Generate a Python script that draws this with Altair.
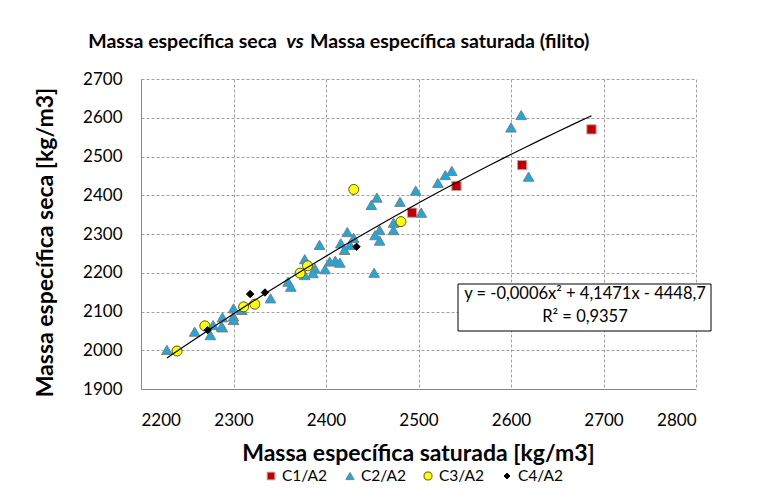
import altair as alt
import pandas as pd

series_names = ["C1/A2", "C2/A2", "C3/A2", "C4/A2"]

c1_x = [2687, 2612, 2541, 2493]
c1_y = [2570, 2478, 2424, 2355]

c2_x = [2611, 2600, 2619, 2536, 2529, 2521, 2497, 2455, 2449, 2480, 2503, 2473,
        2473, 2458, 2453, 2458, 2452, 2393, 2416, 2420, 2426, 2377, 2377, 2388,
        2399, 2386, 2404, 2410, 2415, 2359, 2362, 2340, 2300, 2300, 2309, 2288,
        2288, 2258, 2275, 2278, 2287, 2300, 2228, 2423, 2430]
c2_y = [2607, 2575, 2448, 2463, 2452, 2432, 2412, 2394, 2375, 2383, 2355, 2329,
        2310, 2310, 2297, 2283, 2200, 2272, 2276, 2259, 2272, 2235, 2194, 2211,
        2209, 2199, 2229, 2231, 2226, 2177, 2164, 2134, 2108, 2087, 2104, 2085,
        2059, 2048, 2039, 2065, 2061, 2078, 2001, 2305, 2290]

c3_x = [2239, 2269, 2311, 2323, 2372, 2380, 2430, 2481]
c3_y = [1998, 2063, 2112, 2119, 2199, 2218, 2415, 2332]

c4_x = [2433, 2318, 2334, 2272]
c4_y = [2267, 2145, 2149, 2052]

x_ticks = [2200, 2300, 2400, 2500, 2600, 2700, 2800]
y_ticks = [1900, 2000, 2100, 2200, 2300, 2400, 2500, 2600, 2700]

eq_line1 = "y = -0,0006x² + 4,1471x - 4448,7"
eq_line2 = "R² = 0,9357"

all_x = [c1_x, c2_x, c3_x, c4_x]
all_y = [c1_y, c2_y, c3_y, c4_y]

fills = ["#C00000", "#1BA9E0", "#FFFF00", "#000000"]
strokes = ["#C8A2A2", "#7F7F7F", "#595900", "#000000"]
shapes = ["square", "triangle-up", "circle", "diamond"]
sizes = [86, 112, 100, 55]
legend_sizes = [60, 70, 65, 35]
legend_sym_x = [130, 209, 287, 366]

FONT = "Lato"

rows = []
for name, xs_, ys_ in zip(series_names, all_x, all_y):
    for xv, yv in zip(xs_, ys_):
        rows.append({"serie": name, "sat": xv, "seca": yv})
df = pd.DataFrame(rows)


def xenc():
    return alt.X("sat:Q", scale=alt.Scale(domain=[2200, 2800], nice=False, zero=False),
                 axis=alt.Axis(values=x_ticks, title="Massa específica saturada [kg/m3]",
                               format="d", labelPadding=23, labelOverlap=False,
                               titleX=277, titleY=71,
                               titleBaseline="alphabetic", titleAlign="center"))


def yenc():
    return alt.Y("seca:Q", scale=alt.Scale(domain=[1900, 2700], nice=False, zero=False),
                 axis=alt.Axis(values=y_ticks, title="Massa específica seca [kg/m3]",
                               format="d", labelPadding=19, labelOverlap=False,
                               titleX=-89, titleY=163,
                               titleAngle=270, titleBaseline="alphabetic", titleAlign="center"))


layers = []
for i, name in enumerate(series_names):
    sdf = pd.DataFrame({"sat": all_x[i], "seca": all_y[i]})
    layers.append(
        alt.Chart(sdf).mark_point(filled=True, shape=shapes[i], fill=fills[i],
                                  stroke=strokes[i], strokeWidth=1, size=sizes[i],
                                  opacity=1).encode(x=xenc(), y=yenc())
    )

trend = alt.Chart(df).mark_line(color="#000000", strokeWidth=1.2).transform_regression(
    "sat", "seca", method="poly", order=2
).encode(x=xenc(), y=yenc())
layers.append(trend)

box_df = pd.DataFrame({"l1": [eq_line1], "l2": [eq_line2]})
layers.append(alt.Chart(box_df).mark_rect(fill="white", stroke="#000000", strokeWidth=1).encode(
    x=alt.value(317), x2=alt.value(570), y=alt.value(205), y2=alt.value(252)))
layers.append(alt.Chart(box_df).mark_text(font=FONT, fontSize=16.5, color="#000000",
                                          align="center", baseline="middle").encode(
    x=alt.value(444), y=alt.value(215), text="l1:N"))
layers.append(alt.Chart(box_df).mark_text(font=FONT, fontSize=16.5, color="#000000",
                                          align="center", baseline="middle").encode(
    x=alt.value(444), y=alt.value(238), text="l2:N"))

# legend (drawn manually)
for i, name in enumerate(series_names):
    ldf = pd.DataFrame({"lab": [name]})
    layers.append(alt.Chart(ldf).mark_point(filled=True, shape=shapes[i], fill=fills[i],
                                            stroke=strokes[i], strokeWidth=1,
                                            size=legend_sizes[i], opacity=1).encode(
        x=alt.value(legend_sym_x[i]), y=alt.value(397)))
    layers.append(alt.Chart(ldf).mark_text(font=FONT, fontSize=15.5, color="#000000",
                                           align="left", baseline="middle").encode(
        x=alt.value(legend_sym_x[i] + 11), y=alt.value(397), text="lab:N"))

title_df = pd.DataFrame({"a": ["Massa específica seca"], "b": ["vs"],
                         "c": ["Massa específica saturada (filito)"]})
layers.append(alt.Chart(title_df).mark_text(font=FONT, fontSize=19.5, fontWeight="bold",
                                            align="right", baseline="alphabetic",
                                            color="#000000").encode(
    x=alt.value(136), y=alt.value(-31), text="a:N"))
layers.append(alt.Chart(title_df).mark_text(font=FONT, fontSize=19.5, fontWeight="bold",
                                            fontStyle="italic", align="center",
                                            baseline="alphabetic", color="#000000").encode(
    x=alt.value(154), y=alt.value(-31), text="b:N"))
layers.append(alt.Chart(title_df).mark_text(font=FONT, fontSize=19.5, fontWeight="bold",
                                            align="left", baseline="alphabetic",
                                            color="#000000").encode(
    x=alt.value(169), y=alt.value(-31), text="c:N"))

chart = alt.layer(*layers).properties(
    width=555, height=310,
    padding={"left": 133, "top": 71, "right": 58, "bottom": 95},
    autosize=alt.AutoSizeParams(type="none"),
).configure_view(stroke=None).configure_axis(
    labelFont=FONT, labelFontSize=17, labelColor="#000000", labelOverlap=False,
    titleFont=FONT, titleFontSize=23, titleFontWeight="bold", titleColor="#000000",
    grid=True, gridColor="#A0A0A0", gridDash=[3, 2], gridWidth=1,
    domainColor="#868686", domainWidth=1, ticks=False, tickSize=0,
)

chart.save("out.html", embed_options={"renderer": "svg", "actions": False})
